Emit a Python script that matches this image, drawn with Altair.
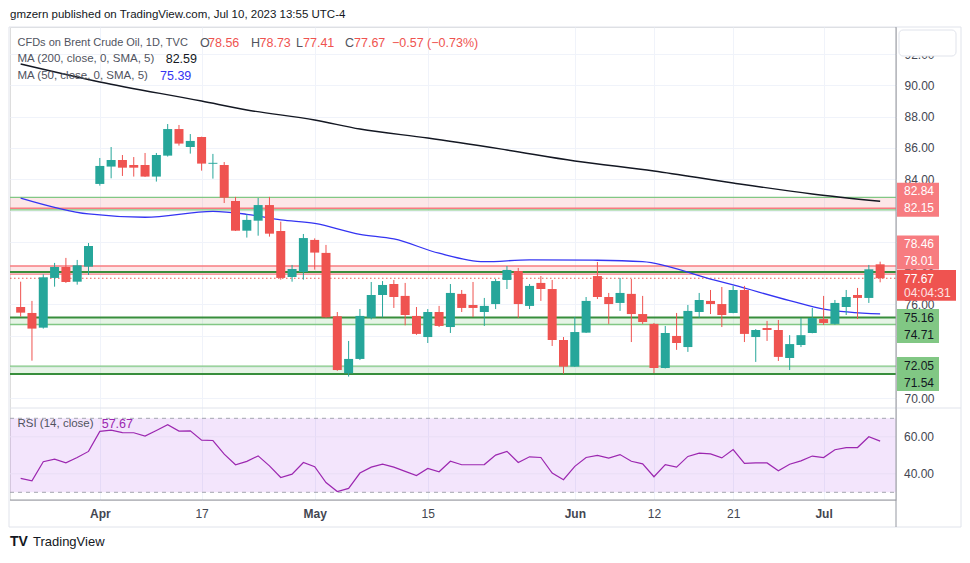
import json
import numpy as np
import pandas as pd
import altair as alt

# ---------------- data ----------------
DATES = [
    "2023-03-23", "2023-03-24", "2023-03-27", "2023-03-28", "2023-03-29", "2023-03-30", "2023-03-31",
    "2023-04-03", "2023-04-04", "2023-04-05", "2023-04-06", "2023-04-10", "2023-04-11", "2023-04-12",
    "2023-04-13", "2023-04-14", "2023-04-17", "2023-04-18", "2023-04-19", "2023-04-20", "2023-04-21",
    "2023-04-24", "2023-04-25", "2023-04-26", "2023-04-27", "2023-04-28", "2023-05-01", "2023-05-02",
    "2023-05-03", "2023-05-04", "2023-05-05", "2023-05-08", "2023-05-09", "2023-05-10", "2023-05-11",
    "2023-05-12", "2023-05-15", "2023-05-16", "2023-05-17", "2023-05-18", "2023-05-19", "2023-05-22",
    "2023-05-23", "2023-05-24", "2023-05-25", "2023-05-26", "2023-05-29", "2023-05-30", "2023-05-31",
    "2023-06-01", "2023-06-02", "2023-06-05", "2023-06-06", "2023-06-07", "2023-06-08", "2023-06-09",
    "2023-06-12", "2023-06-13", "2023-06-14", "2023-06-15", "2023-06-16", "2023-06-19", "2023-06-20",
    "2023-06-21", "2023-06-22", "2023-06-23", "2023-06-26", "2023-06-27", "2023-06-28", "2023-06-29",
    "2023-06-30", "2023-07-03", "2023-07-04", "2023-07-05", "2023-07-06", "2023-07-07", "2023-07-10",
]
OPEN = [75.83, 75.45, 74.51, 77.69, 78.39, 77.45, 78.41, 83.70, 84.81, 85.23, 84.91, 84.91, 84.17, 85.51,
        87.21, 86.06, 86.70, 84.99, 84.91, 82.61, 80.71, 81.35, 82.35, 80.69, 77.75, 78.07, 80.12, 79.29,
        75.24, 71.59, 72.51, 75.15, 76.60, 77.30, 76.54, 75.26, 73.91, 75.51, 74.55, 76.67, 75.96, 75.51,
        76.02, 77.56, 78.13, 75.90, 77.37, 76.98, 73.72, 72.02, 74.19, 77.81, 76.47, 76.09, 76.67, 75.38,
        74.75, 71.93, 73.98, 73.27, 75.51, 76.22, 76.02, 75.45, 76.92, 73.91, 74.49, 74.36, 72.57, 73.40,
        74.17, 75.06, 74.75, 75.83, 76.60, 76.41, 78.56]
HIGH = [77.45, 76.22, 77.92, 78.65, 78.97, 78.84, 79.92, 85.36, 86.06, 85.55, 85.42, 85.68, 85.68, 87.53,
        87.47, 86.89, 86.72, 85.62, 85.10, 82.87, 81.76, 82.80, 82.87, 81.29, 78.52, 80.50, 80.22, 79.80,
        75.51, 73.66, 75.70, 77.43, 77.49, 77.56, 77.37, 75.83, 75.70, 75.90, 77.30, 76.92, 77.43, 76.41,
        77.62, 78.45, 78.33, 77.30, 77.81, 77.56, 73.91, 75.19, 76.47, 78.71, 76.73, 77.69, 77.62, 76.54,
        74.81, 74.62, 75.45, 75.96, 76.73, 76.92, 77.11, 77.18, 77.18, 74.42, 74.94, 75.00, 74.03, 75.13,
        75.77, 76.54, 76.28, 76.92, 77.05, 78.52, 78.73]
LOW = [75.21, 72.40, 74.45, 77.13, 77.37, 77.26, 77.88, 83.59, 84.06, 84.21, 84.17, 84.15, 83.85, 85.45,
       86.15, 85.64, 84.55, 84.04, 82.48, 80.69, 80.27, 80.39, 80.33, 77.58, 77.45, 77.58, 78.22, 75.15,
       71.75, 71.38, 72.44, 75.04, 75.17, 75.77, 74.66, 74.05, 73.53, 74.55, 74.17, 75.51, 75.19, 74.62,
       75.70, 76.98, 75.13, 75.70, 76.22, 73.34, 71.57, 72.00, 74.17, 76.34, 74.75, 75.58, 73.59, 74.75,
       71.61, 71.90, 73.09, 72.96, 75.13, 75.38, 74.55, 75.43, 73.59, 72.32, 73.66, 72.38, 71.80, 73.27,
       74.15, 74.68, 74.70, 75.32, 75.06, 76.09, 77.41]
CLOSE = [75.47, 74.45, 77.73, 78.39, 77.43, 78.50, 79.73, 84.85, 85.23, 84.74, 84.74, 84.17, 85.55, 87.21,
         86.28, 86.45, 85.00, 85.05, 82.82, 80.71, 81.40, 82.35, 80.52, 77.69, 78.26, 80.24, 79.31, 75.17,
         71.80, 72.51, 75.26, 76.60, 77.24, 76.47, 75.32, 74.11, 75.51, 74.62, 76.73, 75.77, 75.77, 75.90,
         77.49, 78.20, 76.02, 77.18, 76.98, 73.72, 72.02, 74.23, 76.22, 76.47, 76.02, 76.73, 75.38, 74.87,
         71.93, 74.17, 73.53, 75.58, 76.28, 76.02, 75.32, 76.92, 74.11, 74.36, 74.36, 72.64, 73.46, 74.03,
         75.13, 74.81, 76.09, 76.47, 76.41, 78.24, 77.67]
RSI = [37.5, 36.2, 46.5, 47.9, 45.9, 48.8, 52.1, 62.9, 63.6, 62.3, 62.2, 60.4, 63.4, 66.5, 63.1, 63.2,
       58.2, 58.0, 50.6, 44.9, 46.7, 49.7, 44.3, 38.0, 39.8, 46.1, 43.8, 35.3, 30.4, 32.1, 40.4, 43.6,
       45.2, 43.6, 41.3, 39.1, 42.9, 41.1, 46.8, 44.9, 44.9, 45.0, 50.1, 52.1, 46.1, 49.2, 48.8, 40.4,
       36.8, 44.0, 48.8, 49.9, 48.5, 50.4, 46.8, 45.4, 38.4, 45.0, 43.6, 49.4, 51.2, 50.8, 48.6, 53.1,
       45.6, 45.9, 45.9, 41.6, 45.2, 47.0, 49.6, 48.8, 53.0, 54.1, 54.2, 60.0, 57.67]
MA200_IDX = [0, 7, 16, 20, 26, 30, 36, 43, 49, 56, 63, 70, 76]
MA200_VAL = [91.37, 90.22, 89.00, 88.43, 87.79, 87.21, 86.64, 85.87, 85.17, 84.53, 83.76, 83.06, 82.59]
MA50_IDX = [0, 6, 11, 17, 20, 23, 26, 30, 33, 37, 41, 45, 51, 55, 61, 63, 68, 71, 76]
MA50_VAL = [82.80, 81.78, 81.57, 81.95, 81.76, 81.40, 81.18, 80.48, 80.18, 79.27, 78.73, 78.84, 78.82,
            78.73, 77.62, 77.24, 76.24, 75.70, 75.39]
ZONE_TOP = [82.84, 78.46, 75.16, 72.05]
ZONE_BOT = [82.15, 78.01, 74.71, 71.54]
ZONE_KIND = ["resistance", "resistance", "support", "support"]
LAST_PRICE = 77.67
COUNTDOWN = "04:04:31"
TICK_DATES = ["2023-04-03", "2023-04-17", "2023-05-01", "2023-05-15", "2023-06-01", "2023-06-12",
              "2023-06-21", "2023-07-03"]
TICK_LABELS = ["Apr", "17", "May", "15", "Jun", "12", "21", "Jul"]
PRICE_TICKS = [70, 72, 74, 76, 78, 80, 82, 84, 86, 88, 90, 92]
RSI_TICKS = [40, 60]
RSI_BAND = [30, 70]

# ---------------- layout / style ----------------
W, H = 886, 473
X_DOMAIN = [-0.5, 76.96]
P_DOMAIN = [63.49, 93.735]
R_DOMAIN = [25.84, 281.5]
PPU = H / (P_DOMAIN[1] - P_DOMAIN[0])   # pixels per price unit
px = 1.0 / PPU
FONT = "Liberation Sans"
GREEN, RED = "#26a69a", "#ef5350"
SALMON, LGREEN, DGREEN = "#f77c80", "#81c784", "#388e3c"
AXIS_TXT = "#434651"
LEG_TXT = "#50535e"
GRID = "#f0f3fa"
FRAME = "#e0e3eb"

idx = list(range(len(DATES)))
candles = pd.DataFrame({"i": idx, "open": OPEN, "high": HIGH, "low": LOW, "close": CLOSE})
candles["dir"] = np.where(candles["close"] >= candles["open"], "up", "down")

# ---- price-scale label boxes (stacked like TradingView's) ----
SHIFT_PX = [-3, -17, 5, 4]
boxes, texts = [], []
for k, (hi, lo, kind) in enumerate(zip(ZONE_TOP, ZONE_BOT, ZONE_KIND)):
    mid = (hi + lo) / 2 - SHIFT_PX[k] * px
    fill = SALMON if kind == "resistance" else LGREEN
    tcol = "#ffffff" if kind == "resistance" else "#131722"
    boxes.append({"top": mid + 17 * px, "bot": mid - 17 * px, "fill": fill})
    texts.append({"p": mid + 8.5 * px, "t": f"{hi:.2f}", "c": tcol})
    texts.append({"p": mid - 8.5 * px, "t": f"{lo:.2f}", "c": tcol})
cur_top, cur_bot = LAST_PRICE + 8.3 * px, LAST_PRICE - 22.4 * px
texts.append({"p": LAST_PRICE - 0.7 * px, "t": f"{LAST_PRICE:.2f}", "c": "#ffffff"})
texts.append({"p": LAST_PRICE - 14.7 * px, "t": COUNTDOWN, "c": "#fde3e3"})

# axis labels that sit completely under a label box are not shown (grid stays)
spans = [(b["bot"], b["top"]) for b in boxes] + [(cur_bot, cur_top)]
hidden = [t for t in PRICE_TICKS if any(lo + 4 * px <= t <= hi - 4 * px for lo, hi in spans)]
price_label_expr = f"indexof({json.dumps(hidden)}, datum.value) >= 0 ? '' : format(datum.value, '.2f')"

tick_idx = [DATES.index(d) for d in TICK_DATES]
bold_idx = [t for t, l in zip(tick_idx, TICK_LABELS) if l.isalpha()]
label_expr = f"{json.dumps(TICK_LABELS)}[indexof({json.dumps(tick_idx)}, datum.value)]"

XSCALE = alt.Scale(domain=X_DOMAIN, nice=False, zero=False)
XAXIS = alt.Axis(values=tick_idx, labelExpr=label_expr, grid=True, gridColor=GRID, domain=False,
                 ticks=False, tickSize=0, labelPadding=8, labelFontSize=12, labelFont=FONT,
                 labelColor=AXIS_TXT, labelOverlap=False, labelFlush=False, title=None,
                 labelFontWeight={"condition": {"test": f"indexof({json.dumps(bold_idx)}, datum.value) >= 0",
                                                "value": "bold"}, "value": "normal"})
PSCALE = alt.Scale(domain=P_DOMAIN, nice=False, zero=False)
PAXIS = alt.Axis(orient="right", values=PRICE_TICKS, labelExpr=price_label_expr, grid=True, gridColor=GRID,
                 domain=False, ticks=False, tickSize=0, labelPadding=8, labelFontSize=12,
                 labelFont=FONT, labelColor=AXIS_TXT, title=None, labelFlush=False, labelOverlap=False)
RSCALE = alt.Scale(domain=R_DOMAIN, nice=False, zero=False)
COLOR = alt.Color("dir:N", scale=alt.Scale(domain=["up", "down"], range=[GREEN, RED]), legend=None)


def X(field="i"):
    return alt.X(f"{field}:Q", scale=XSCALE, axis=XAXIS)


def YP(field):
    return alt.Y(f"{field}:Q", scale=PSCALE, axis=PAXIS)


def YR(field):
    return alt.Y(f"{field}:Q", scale=RSCALE, axis=None)


ONE = pd.DataFrame({"a": [0]})


def txt(x, y, s, color, size=12, weight="normal", align="left"):
    return alt.Chart(ONE).mark_text(text=s, font=FONT, fontSize=size, fontWeight=weight, color=color,
                                    align=align, baseline="middle").encode(x=alt.value(x), y=alt.value(y))


# ---------------- price pane ----------------
zones = pd.DataFrame({"top": ZONE_TOP, "bot": ZONE_BOT, "kind": ZONE_KIND})
zones["fill"] = np.where(zones["kind"] == "resistance", "#f23645", "#4caf50")
zones["op"] = np.where(zones["kind"] == "resistance", 0.12, 0.14)
zone_fill = alt.Chart(zones).mark_rect().encode(
    x=alt.value(0), x2=alt.value(W), y=YP("top"), y2="bot",
    fill=alt.Fill("fill:N", scale=None), opacity=alt.Opacity("op:Q", scale=None))

zl = pd.DataFrame({
    "p": [ZONE_TOP[0], ZONE_BOT[0], ZONE_BOT[0] - 1.6 * px,
          ZONE_TOP[1], ZONE_BOT[1] + 0.8 * px, ZONE_BOT[1] - 1.2 * px,
          ZONE_TOP[2], ZONE_BOT[2], ZONE_TOP[3], ZONE_BOT[3]],
    "col": [LGREEN, SALMON, LGREEN, SALMON, DGREEN, SALMON, DGREEN, LGREEN, LGREEN, DGREEN],
    "w": [1.4, 1.5, 1.2, 1.5, 2.0, 1.2, 2.0, 1.4, 1.4, 2.0],
})
zone_lines = alt.Chart(zl).mark_rule().encode(
    x=alt.value(0), x2=alt.value(W), y=YP("p"),
    stroke=alt.Stroke("col:N", scale=None), strokeWidth=alt.StrokeWidth("w:Q", scale=None))

last_line = alt.Chart(pd.DataFrame({"p": [LAST_PRICE]})).mark_rule(
    color=RED, strokeDash=[1.5, 2.5], strokeWidth=1).encode(x=alt.value(0), x2=alt.value(W), y=YP("p"))

ma200 = alt.Chart(pd.DataFrame({"i": MA200_IDX, "v": MA200_VAL})).mark_line(
    color="#131722", strokeWidth=1.4, interpolate="monotone").encode(x=X(), y=YP("v"))
ma50 = alt.Chart(pd.DataFrame({"i": MA50_IDX, "v": MA50_VAL})).mark_line(
    color="#3434f2", strokeWidth=1.3, interpolate="monotone").encode(x=X(), y=YP("v"))

wicks = alt.Chart(candles).mark_rule(strokeWidth=1).encode(x=X(), y=YP("low"), y2="high", color=COLOR)
bodies = alt.Chart(candles).mark_bar(size=9).encode(x=X(), y=YP("open"), y2="close", color=COLOR)

label_boxes = alt.Chart(pd.DataFrame(boxes)).mark_rect().encode(
    x=alt.value(W + 1), x2=alt.value(W + 43), y=YP("top"), y2="bot", fill=alt.Fill("fill:N", scale=None))
cur_box = alt.Chart(pd.DataFrame({"top": [cur_top], "bot": [cur_bot]})).mark_rect(
    color=RED).encode(x=alt.value(W + 1), x2=alt.value(W + 60), y=YP("top"), y2="bot")
label_text = alt.Chart(pd.DataFrame(texts)).mark_text(
    align="left", baseline="middle", font=FONT, fontSize=12).encode(
    x=alt.value(W + 8), y=YP("p"), text="t:N", fill=alt.Fill("c:N", scale=None))

price_pane = alt.layer(zone_fill, zone_lines, last_line, ma200, ma50, wicks, bodies,
                       label_boxes, cur_box, label_text)

# ---------------- RSI pane ----------------
rsi_df = pd.DataFrame({"i": idx, "rsi": RSI})
band = alt.Chart(pd.DataFrame({"top": [RSI_BAND[1]], "bot": [RSI_BAND[0]]})).mark_rect(
    color="#9b26e6", opacity=0.12).encode(x=alt.value(0), x2=alt.value(W), y=YR("top"), y2="bot")
rgrid = alt.Chart(pd.DataFrame({"v": RSI_TICKS})).mark_rule(color="#e9def5", strokeWidth=1).encode(
    x=alt.value(0), x2=alt.value(W), y=YR("v"))
rdash = alt.Chart(pd.DataFrame({"v": RSI_BAND})).mark_rule(color="#a3a6af", strokeDash=[4, 4], strokeWidth=1).encode(
    x=alt.value(0), x2=alt.value(W), y=YR("v"))
rline = alt.Chart(rsi_df).mark_line(color="#9c27b0", strokeWidth=1.2).encode(x=X(), y=YR("rsi"))
rlab = alt.Chart(pd.DataFrame({"v": RSI_TICKS})).mark_text(
    align="left", baseline="middle", font=FONT, fontSize=12, color=AXIS_TXT).encode(
    x=alt.value(W + 8), y=YR("v"), text=alt.Text("v:Q", format=".2f"))
rsi_pane = alt.layer(band, rgrid, rdash, rline, rlab)

# ---------------- frame & decoration ----------------
frame = alt.Chart(ONE).mark_rect(fill=None, stroke=FRAME, strokeWidth=1).encode(
    x=alt.value(-1), x2=alt.value(951), y=alt.value(0), y2=alt.value(500))
sep = alt.Chart(ONE).mark_rule(color=FRAME, strokeWidth=1).encode(
    x=alt.value(0), x2=alt.value(951), y=alt.value(381))
axis_v = alt.Chart(ONE).mark_rule(color="#9598a1", strokeWidth=1).encode(
    x=alt.value(W), y=alt.value(0), y2=alt.value(500))
axis_h = alt.Chart(ONE).mark_rule(color="#9598a1", strokeWidth=1).encode(
    x=alt.value(0), x2=alt.value(W), y=alt.value(H))
logo_box = alt.Chart(ONE).mark_rect(fill="#ffffff", stroke=FRAME, strokeWidth=1, cornerRadius=4).encode(
    x=alt.value(889), x2=alt.value(946), y=alt.value(3), y2=alt.value(29))

deco = [
    txt(0, -12.5, "gmzern published on TradingView.com, Jul 10, 2023 13:55 UTC-4", "#131722", size=11.5),
    txt(7.5, 15.7, "CFDs on Brent Crude Oil, 1D, TVC", LEG_TXT, size=11),
    txt(190, 15.7, "O", LEG_TXT, size=12.5), txt(198, 15.7, "78.56", RED, size=12.5),
    txt(241, 15.7, "H", LEG_TXT, size=12.5), txt(249.5, 15.7, "78.73", RED, size=12.5),
    txt(286, 15.7, "L", LEG_TXT, size=12.5), txt(293, 15.7, "77.41", RED, size=12.5),
    txt(335, 15.7, "C", LEG_TXT, size=12.5), txt(344, 15.7, "77.67", RED, size=12.5),
    txt(382, 15.7, "\u22120.57 (\u22120.73%)", RED, size=12.5),
    txt(7.5, 32.3, "MA (200, close, 0, SMA, 5)", LEG_TXT, size=11.5),
    txt(155.7, 32.3, "82.59", "#131722", size=12.5),
    txt(7.5, 48.7, "MA (50, close, 0, SMA, 5)", LEG_TXT, size=11.5),
    txt(150, 48.7, "75.39", "#3434f2", size=12.5),
    txt(7.5, 397, "RSI (14, close)", LEG_TXT, size=11.5),
    txt(91.7, 397, "57.67", "#9c27b0", size=12.5),
    txt(0, 514.5, "TV", "#131722", size=14, weight="bold"),
    txt(23, 514.5, "TradingView", "#131722", size=13),
]

chart = alt.layer(
    price_pane, rsi_pane, frame, sep, axis_v, axis_h, logo_box, *deco
).resolve_scale(y="independent").properties(
    width=W, height=H,
    autosize=alt.AutoSizeParams(type="none"),
    padding={"left": 2, "top": 19, "right": 66, "bottom": 50},
).configure_view(stroke=None).configure(background="#ffffff")

chart.save("out.html", embed_options={"renderer": "svg", "actions": False})
